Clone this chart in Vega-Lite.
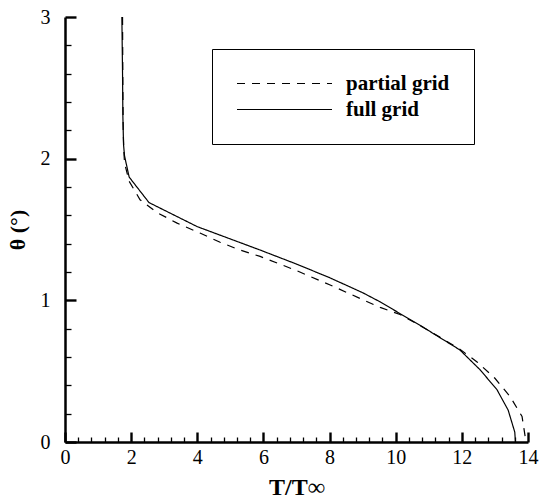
{
  "$schema": "https://vega.github.io/schema/vega-lite/v6.json",
  "width": 463,
  "height": 425,
  "autosize": "none",
  "padding": {"left": 65, "top": 17, "right": 17, "bottom": 59},
  "background": "white",
  "config": {
    "view": {"stroke": null},
    "font": "Liberation Serif",
    "axis": {
      "labelFont": "Liberation Serif",
      "labelColor": "black",
      "titleFont": "Liberation Serif",
      "titleColor": "black",
      "domainColor": "black",
      "tickColor": "black",
      "grid": false,
      "labelOverlap": false,
      "labelFlush": false
    },
    "legend": {
      "title": null,
      "orient": "none",
      "legendX": 147,
      "legendY": 32,
      "strokeColor": "black",
      "fillColor": "white",
      "padding": 24,
      "symbolType": "stroke",
      "symbolSize": 9025,
      "symbolStrokeWidth": 1.2,
      "symbolStrokeColor": "black",
      "clipHeight": 21,
      "rowPadding": 4,
      "labelOffset": 13,
      "labelFont": "Liberation Serif",
      "labelFontWeight": "bold",
      "labelFontSize": 21,
      "labelColor": "black"
    }
  },
  "data": {
    "values": [
      {"grid": "full grid", "T": 1.72, "theta": 3.0},
      {"grid": "full grid", "T": 1.74, "theta": 2.6},
      {"grid": "full grid", "T": 1.75, "theta": 2.3},
      {"grid": "full grid", "T": 1.77, "theta": 2.1},
      {"grid": "full grid", "T": 1.8, "theta": 2.02},
      {"grid": "full grid", "T": 1.94, "theta": 1.87},
      {"grid": "full grid", "T": 2.54, "theta": 1.69},
      {"grid": "full grid", "T": 4.0, "theta": 1.52},
      {"grid": "full grid", "T": 5.9, "theta": 1.355},
      {"grid": "full grid", "T": 7.0, "theta": 1.256},
      {"grid": "full grid", "T": 8.0, "theta": 1.16},
      {"grid": "full grid", "T": 9.0, "theta": 1.054},
      {"grid": "full grid", "T": 9.53, "theta": 0.989},
      {"grid": "full grid", "T": 10.83, "theta": 0.81},
      {"grid": "full grid", "T": 11.94, "theta": 0.65},
      {"grid": "full grid", "T": 12.55, "theta": 0.51},
      {"grid": "full grid", "T": 13.06, "theta": 0.37},
      {"grid": "full grid", "T": 13.4, "theta": 0.225},
      {"grid": "full grid", "T": 13.6, "theta": 0.07},
      {"grid": "full grid", "T": 13.62, "theta": 0.0},
      {"grid": "partial grid", "T": 1.74, "theta": 3.0},
      {"grid": "partial grid", "T": 1.75, "theta": 2.5},
      {"grid": "partial grid", "T": 1.76, "theta": 2.2},
      {"grid": "partial grid", "T": 1.78, "theta": 2.05},
      {"grid": "partial grid", "T": 1.8, "theta": 1.97},
      {"grid": "partial grid", "T": 1.94, "theta": 1.84},
      {"grid": "partial grid", "T": 2.27, "theta": 1.71},
      {"grid": "partial grid", "T": 2.78, "theta": 1.62},
      {"grid": "partial grid", "T": 3.39, "theta": 1.545},
      {"grid": "partial grid", "T": 4.08, "theta": 1.475},
      {"grid": "partial grid", "T": 4.69, "theta": 1.41},
      {"grid": "partial grid", "T": 5.29, "theta": 1.355},
      {"grid": "partial grid", "T": 5.9, "theta": 1.31},
      {"grid": "partial grid", "T": 7.0, "theta": 1.21},
      {"grid": "partial grid", "T": 8.0, "theta": 1.11},
      {"grid": "partial grid", "T": 9.0, "theta": 1.005},
      {"grid": "partial grid", "T": 9.53, "theta": 0.95},
      {"grid": "partial grid", "T": 10.13, "theta": 0.9},
      {"grid": "partial grid", "T": 10.83, "theta": 0.81},
      {"grid": "partial grid", "T": 11.94, "theta": 0.655},
      {"grid": "partial grid", "T": 12.46, "theta": 0.565},
      {"grid": "partial grid", "T": 13.0, "theta": 0.45},
      {"grid": "partial grid", "T": 13.46, "theta": 0.32},
      {"grid": "partial grid", "T": 13.82, "theta": 0.18},
      {"grid": "partial grid", "T": 13.92, "theta": 0.03},
      {"grid": "partial grid", "T": 13.94, "theta": 0.0}
    ]
  },
  "layer": [
    {
      "transform": [{"filter": "datum.grid === 'full grid'"}],
      "mark": {"type": "line", "color": "black", "strokeWidth": 1.2},
      "encoding": {
        "x": {
          "field": "T",
          "type": "quantitative",
          "scale": {"domain": [0, 14], "nice": false, "zero": false},
          "axis": {
            "orient": "bottom",
            "title": "T/T∞",
            "titleFontWeight": "bold",
            "titleFontSize": 24,
            "titlePadding": 8,
            "values": [0, 2, 4, 6, 8, 10, 12, 14],
            "format": "d",
            "labelFontSize": 20,
            "labelPadding": 15,
            "domainWidth": 2.5,
            "tickSize": -10,
            "tickWidth": 2.4
          }
        },
        "y": {
          "field": "theta",
          "type": "quantitative",
          "scale": {"domain": [0, 3], "nice": false},
          "axis": {
            "orient": "left",
            "title": "θ (°)",
            "titleFontWeight": "bold",
            "titleFontSize": 22,
            "titlePadding": 11,
            "values": [0, 1, 2, 3],
            "format": "d",
            "labelFontSize": 20,
            "labelPadding": 26,
            "domainWidth": 2.5,
            "tickSize": -11,
            "tickWidth": 2.4
          }
        },
        "strokeDash": {
          "field": "grid",
          "type": "nominal",
          "scale": {"domain": ["partial grid", "full grid"], "range": [[8, 7], [1, 0]]}
        },
        "order": {"field": "theta", "sort": "descending"}
      }
    },
    {
      "transform": [{"filter": "datum.grid === 'partial grid'"}],
      "mark": {"type": "line", "color": "black", "strokeWidth": 1.2},
      "encoding": {
        "x": {
          "field": "T",
          "type": "quantitative",
          "axis": {
            "orient": "bottom",
            "title": null,
            "labels": false,
            "domain": false,
            "values": [0.4, 0.8, 1.2, 1.6, 2.4, 2.8, 3.2, 3.6, 4.4, 4.8, 5.2, 5.6, 6.4, 6.8, 7.2, 7.6, 8.4, 8.8, 9.2, 9.6, 10.4, 10.8, 11.2, 11.6, 12.4, 12.8, 13.2, 13.6],
            "tickSize": -5,
            "tickWidth": 1.3
          }
        },
        "y": {
          "field": "theta",
          "type": "quantitative",
          "axis": {
            "orient": "left",
            "title": null,
            "labels": false,
            "domain": false,
            "values": [0.2, 0.4, 0.6, 0.8, 1.2, 1.4, 1.6, 1.8, 2.2, 2.4, 2.6, 2.8],
            "tickSize": -6,
            "tickWidth": 1.3
          }
        },
        "strokeDash": {
          "field": "grid",
          "type": "nominal",
          "scale": {"domain": ["partial grid", "full grid"], "range": [[8, 7], [1, 0]]}
        },
        "order": {"field": "theta", "sort": "descending"}
      }
    }
  ],
  "resolve": {"axis": {"x": "independent", "y": "independent"}}
}
